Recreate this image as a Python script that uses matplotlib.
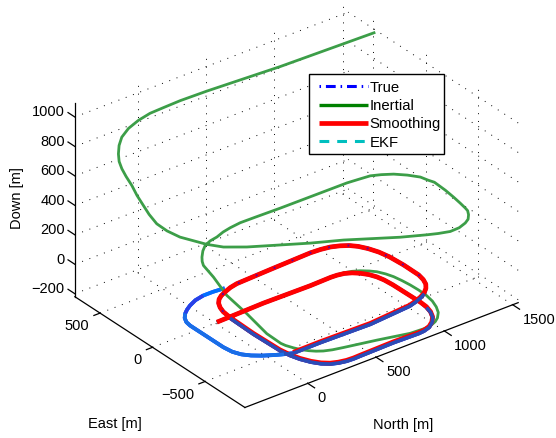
import matplotlib
matplotlib.use("Agg")
import matplotlib.pyplot as plt
from matplotlib.lines import Line2D
from matplotlib.patches import Rectangle
from matplotlib.legend_handler import HandlerLine2D
from mpl_toolkits.mplot3d import proj3d

plt.rcParams['font.family'] = ['Liberation Sans', 'DejaVu Sans']

# DATA ------------------------------------------------------------------------
north_ticks = [0, 500, 1000, 1500]
east_ticks = [-500, 0, 500]
down_ticks = [-200, 0, 200, 400, 600, 800, 1000]
north_lim = [-460, 1540]
east_lim = [-880, 740]
down_lim = [-220, 1093]

flat_down = -200  # true and smoothed tracks read as level

smooth_n = [-7, 92, 343, 681, 836, 880, 925, 965, 1000, 1030, 1050, 1062, 1068, 1070, 1072,
            1068, 1052, 1025, 985, 940, 890, 848, 668, 420, 370, 320, 270, 225, 185, 150,
            120, 100, 88, 82, 88, 96, 112, 135, 165, 200, 244, 300, 357, 611, 913,
            985, 1048, 1100, 1145, 1180, 1210, 1235, 1250, 1258, 1257, 1245, 1225, 1195,
            1155, 1110, 1060, 1000, 691, 330, 131]
smooth_e = [-23, -20, -12, -17, -12, -15, -25, -47, -80, -122, -170, -225, -300, -428, -560,
            -620, -680, -735, -780, -812, -828, -832, -827, -833, -835, -832, -820, -800, -765, -715,
            -650, -580, -500, -255, -24, 50, 101, 145, 180, 205, 226, 248, 261, 273, 285,
            280, 268, 245, 215, 175, 120, 50, -30, -156, -300, -360, -410, -450,
            -485, -510, -530, -548, -576, -568, -570]

true_n = [-7, 92, 343, 681, 836, 880, 925, 965, 1000, 1030, 1050, 1062, 1068, 1070, 1072,
          1063, 1047, 1020, 980, 935, 885, 843, 663, 415, 365, 315, 265, 220, 180, 145,
          115, 95, 83, 77, 83, 96, 112, 135, 165, 200, 244, 300, 357, 611, 913,
          985, 1048, 1100, 1145, 1180, 1210, 1235, 1250, 1258, 1257, 1245, 1225, 1195,
          1150, 1105, 1055, 995, 686, 325, 126,
          76, 20, -36, -85, -122, -145, -154, -154, -154, -147, -125, -90, -55, -13,
          50, 118, 190, 270]
true_e = [-23, -20, -12, -17, -12, -15, -25, -47, -80, -122, -170, -225, -300, -428, -560,
          -628, -688, -743, -788, -820, -836, -840, -835, -841, -843, -840, -828, -808, -773, -723,
          -658, -588, -508, -263, -32, 50, 101, 145, 180, 205, 226, 248, 261, 273, 285,
          280, 268, 245, 215, 175, 120, 50, -30, -156, -300, -360, -410, -450,
          -493, -518, -538, -556, -584, -576, -578,
          -555, -525, -490, -450, -405, -350, -277, -121, 40, 85, 130, 170, 198, 225,
          255, 270, 270, 262]

inertial_n = [-7, 343, 681, 926, 975, 1017, 1057, 1087, 1112, 1129, 1140, 1147,
              1150, 1148, 1135, 1112, 1082, 1040, 1003, 960, 910, 805, 603, 397,
              330, 280, 245, 215, 188, 165, 145, 138, 142, 191,
              176, 192, 176, 173, 176, 198, 222, 251, 283, 347, 409, 491, 599, 779,
              1212, 1264, 1318, 1377, 1438, 1468, 1488, 1502, 1516, 1484, 1447, 1435,
              1424, 1416, 1392, 1358, 1318, 1257, 1189, 1119, 1058, 866, 585, 357,
              38, -70, -180,
              -252, -294, -317, -286, -249, -260, -265, -254, -245, -232, -208, -197,
              -178, -111, -35, 69, 171, 271, 435, 895, 1471]
inertial_e = [-23, -12, -17, -16, -32, -56, -90, -124, -175, -228, -295, -363,
              -440, -514, -590, -657, -715, -762, -789, -807, -815, -808, -753, -703,
              -685, -664, -640, -610, -575, -530, -480, -444, -305, -51,
              120, 268, 343, 351, 357, 377, 386, 376, 354, 378, 392, 403, 401, 396,
              325, 283, 240, 212, 173, 82, -16, -73, -113, -259, -386, -465,
              -527, -560, -600, -640, -665, -687, -690, -666, -638, -634, -460, -438,
              -250, -168, -152,
              9, 78, 146, 259, 362, 408, 451, 520, 572, 615, 653, 661,
              660, 683, 688, 712, 717, 688, 648, 547, 391]
inertial_d = [-200] * 34 + [-150, -100, -50, -25, 0, 25, 50, 75, 100, 100, 100, 100, 100, 100,
              150, 175, 200, 200, 200, 225, 250, 250, 250, 275, 300, 300,
              300, 300, 300, 300, 300, 300, 300, 300, 300, 350, 350, 400,
              400, 400, 450,
              450, 475, 500, 500, 500, 550, 600, 625, 650, 675, 700, 750,
              800, 825, 850, 850, 850, 875, 900, 950, 1050]

# PLOT ------------------------------------------------------------------------
W, H = 556, 438
fig = plt.figure(figsize=(W / 100, H / 100), dpi=100)
S = 482
ax = fig.add_axes([49 / W, -12.5 / H, S / W, S / H], projection='3d',
                  proj_type='ortho', computed_zorder=False)
ax.set_xlim(north_lim)
ax.set_ylim(east_lim)
ax.set_zlim(down_lim)
ax.set_box_aspect((344, 279, 223))
ax.view_init(elev=30, azim=-127.5)
ax.set_axis_off()
ax.patch.set_alpha(0)

# grid on floor and the two back walls
grid = dict(color='k', lw=0.7, ls=(0, (1, 7)), zorder=1)
nlo, nhi = north_lim
elo, ehi = east_lim
dlo, dhi = down_lim
for n in north_ticks:
    ax.plot([n, n], [elo, ehi], [dlo, dlo], **grid)
    ax.plot([n, n], [ehi, ehi], [dlo, dhi], **grid)
for e in east_ticks:
    ax.plot([nlo, nhi], [e, e], [dlo, dlo], **grid)
    ax.plot([nhi, nhi], [e, e], [dlo, dhi], **grid)
for d in down_ticks:
    ax.plot([nlo, nhi], [ehi, ehi], [d, d], **grid)
    ax.plot([nhi, nhi], [elo, ehi], [d, d], **grid)

# axis lines and ticks
line = dict(color='k', lw=0.9, zorder=2)
ax.plot([nlo, nhi], [elo, elo], [dlo, dlo], **line)
ax.plot([nlo, nlo], [elo, ehi], [dlo, dlo], **line)
ax.plot([nlo, nlo], [ehi, ehi], [dlo, dhi], **line)
fs = 10.5

# tick labels go through the 3d projection but stay plain 2d text
M = ax.get_proj()
def label3d(n, e, d, s, ha):
    x, y, _ = proj3d.proj_transform(n, e, d, M)
    ax.text2D(x, y, str(s).replace('-', '\u2212'), transform=ax.transData,
              ha=ha, va='center', fontsize=fs)

for n in north_ticks:
    ax.plot([n, n], [elo, elo - 65], [dlo, dlo], **line)
    label3d(n - 60, elo - 173, dlo, n, 'left')
for e in east_ticks:
    ax.plot([nlo, nlo - 45], [e, e], [dlo, dlo], **line)
    label3d(nlo - 143, e - 81, dlo, e, 'right')
for d in down_ticks:
    ax.plot([nlo, nlo], [ehi, ehi + 65], [d, d], **line)
    label3d(nlo - 14, ehi + 77, d, d, 'right')

# tracks
def track(n, e, color, lw, z, d=flat_down, **kw):
    if isinstance(d, int):
        d = [d] * len(n)
    ax.plot(n, e, d, color=color, lw=lw, zorder=z, solid_capstyle='butt',
            solid_joinstyle='round', **kw)

blue, cyan, red, green = '#0000ff', '#00bfbf', '#ff0000', '#3c9e48'
track(true_n, true_e, blue, 2.7, 3)
track(true_n, true_e, '#00a0ff', 2.7, 4, alpha=0.7)
track(inertial_n, inertial_e, green, 2.0, 5, d=inertial_d)
track(smooth_n, smooth_e, red, 3.4, 6)

# parts of the true and EKF tracks that show above the smoothed one
for a, b, c in [(15, 35, '#2a4cb8'), (58, 66, '#2a4cb8'), (65, 77, '#1a6ee6'), (76, 81, '#2b3fe6')]:
    track(true_n[a:b], true_e[a:b], c, 2.5, 7)
ax.plot(true_n[35:58], true_e[35:58], [flat_down] * 23, color=blue, lw=1.4,
        ls=(0, (1, 9)), alpha=0.6, zorder=9)

handles = [Line2D([], [], color=blue, lw=2.2, ls=(0, (0.5, 1.6, 3.2, 1.6))),
           Line2D([], [], color='#008000', lw=2.4, solid_capstyle='butt'),
           Line2D([], [], color=red, lw=3.4, solid_capstyle='butt'),
           Line2D([], [], color=cyan, lw=2.2, ls=(0, (3.2, 2.6)))]
fig.add_artist(Rectangle((309 / W, 1 - 154 / H), 135 / W, 80 / H, transform=fig.transFigure,
                         facecolor='white', edgecolor='k', lw=1.0, zorder=4))
fig.legend(handles, ['True', 'Inertial', 'Smoothing', 'EKF'], loc='upper left',
           bbox_to_anchor=(314 / W, 1 - 80.7 / H), bbox_transform=fig.transFigure,
           borderaxespad=0, borderpad=0, fontsize=10.7, frameon=False,
           handlelength=3.62, handletextpad=0.1, labelspacing=0.29,
           handler_map={Line2D: HandlerLine2D(xpad=0.36)})

fig.text(17 / W, 1 - 198 / H, 'Down [m]', rotation=90, ha='center', va='center', fontsize=fs)
fig.text(115 / W, 1 - 424 / H, 'East [m]', ha='center', va='center', fontsize=fs)
fig.text(403 / W, 1 - 425 / H, 'North [m]', ha='center', va='center', fontsize=fs)

fig.savefig("out.png", dpi=100)
